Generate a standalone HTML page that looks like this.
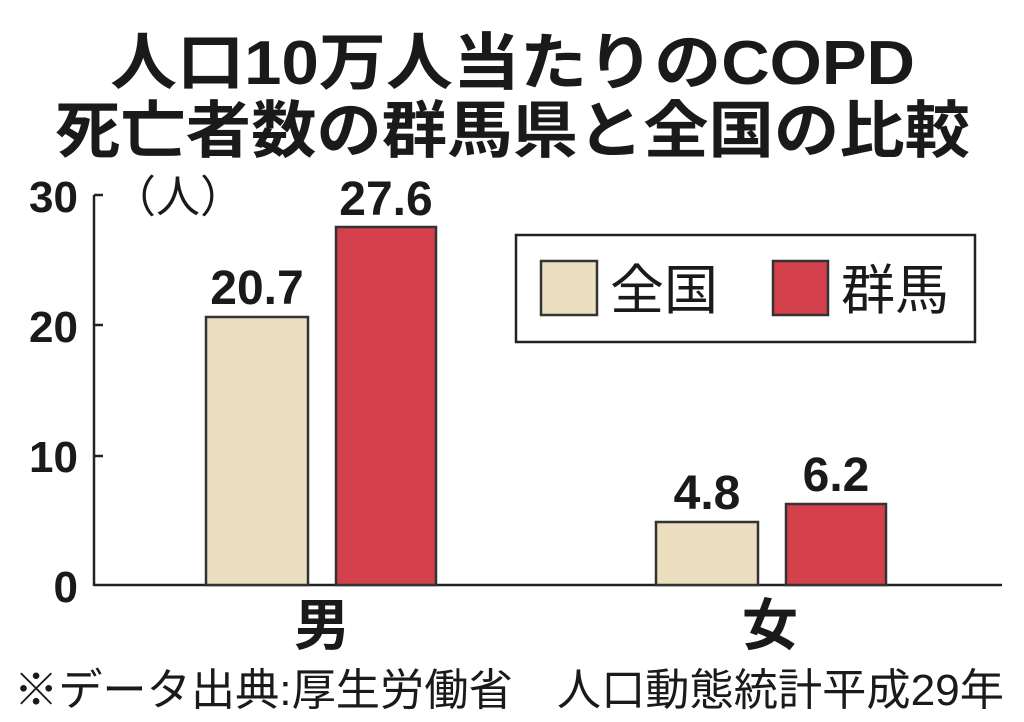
<!DOCTYPE html>
<html><head><meta charset="utf-8"><style>
html,body{margin:0;padding:0;background:#fff;}
svg{display:block;}
text{font-family:"Liberation Sans","Noto Sans CJK JP",sans-serif;fill:#1a1a1a;}
</style></head><body>
<svg width="1024" height="722" viewBox="0 0 1024 722" xmlns="http://www.w3.org/2000/svg">
<text x="110" y="84" font-size="62" font-weight="bold" textLength="805" lengthAdjust="spacingAndGlyphs">人口10万人当たりのCOPD</text>
<text x="55" y="152" font-size="62" font-weight="bold" textLength="915" lengthAdjust="spacingAndGlyphs">死亡者数の群馬県と全国の比較</text>
<g stroke="#222" stroke-width="2.5" fill="none">
<line x1="94" y1="195" x2="94" y2="586"/>
<line x1="94" y1="195" x2="103" y2="195"/>
<line x1="94" y1="325" x2="103" y2="325"/>
<line x1="94" y1="456" x2="103" y2="456"/>
<line x1="94" y1="585" x2="1002" y2="585"/>
</g>
<g font-size="44" font-weight="bold" text-anchor="end">
<text x="78" y="212">30</text><text x="78" y="342">20</text><text x="78" y="472">10</text><text x="78" y="602">0</text>
</g>
<text x="112" y="212" font-size="44">（人）</text>
<g stroke="#333" stroke-width="2.5">
<rect x="206" y="317" width="102" height="268" fill="#ebdfbf"/>
<rect x="336" y="227" width="100" height="358" fill="#d4414c"/>
<rect x="656" y="522" width="102" height="63" fill="#ebdfbf"/>
<rect x="786" y="504" width="100" height="81" fill="#d4414c"/>
</g>
<g font-size="48" font-weight="bold" text-anchor="middle">
<text x="257" y="304">20.7</text><text x="386" y="215">27.6</text>
<text x="707" y="509">4.8</text><text x="836" y="491">6.2</text>
</g>
<rect x="516" y="235" width="459" height="107" fill="#fff" stroke="#222" stroke-width="2.5"/>
<rect x="541" y="261" width="56" height="54" fill="#ebdfbf" stroke="#333" stroke-width="2.5"/>
<rect x="773" y="261" width="55" height="54" fill="#d4414c" stroke="#333" stroke-width="2.5"/>
<text x="610" y="309" font-size="54">全国</text>
<text x="841" y="309" font-size="54">群馬</text>
<text x="322" y="645" text-anchor="middle" font-size="56" font-weight="bold">男</text>
<text x="770" y="645" text-anchor="middle" font-size="56" font-weight="bold">女</text>
<text x="14" y="705" font-size="44" textLength="990" lengthAdjust="spacingAndGlyphs">※データ出典:厚生労働省　人口動態統計平成29年</text>
</svg>
</body></html>
